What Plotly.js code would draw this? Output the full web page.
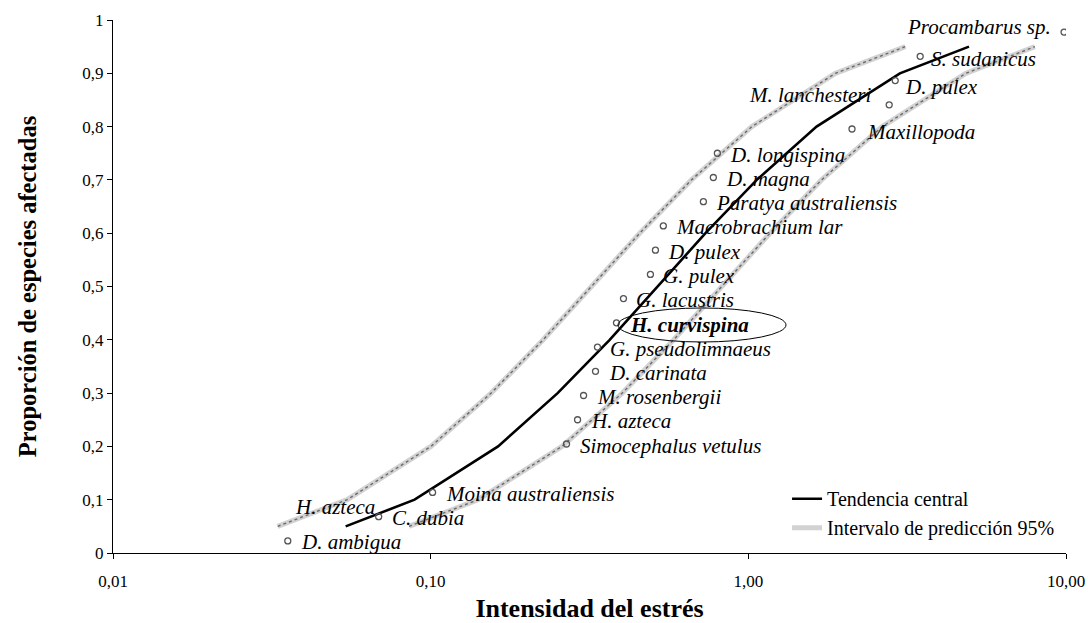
<!DOCTYPE html>
<html>
<head>
<meta charset="utf-8">
<script src="https://cdn.plot.ly/plotly-3.0.1.min.js"></script>
<style>html,body{margin:0;padding:0;background:#fff;}#chart{width:1088px;height:623px;}</style>
</head>
<body>
<div id="chart"></div>
<script>
// ---- data ----
const species = ["D. ambigua","C. dubia","Moina australiensis","Simocephalus vetulus","H. azteca",
  "M. rosenbergii","D. carinata","G. pseudolimnaeus","H. curvispina","G. lacustris","G. pulex",
  "D. pulex","Macrobrachium lar","Paratya australiensis","D. magna","D. longispina","Maxillopoda",
  "M. lanchesteri","D. pulex","S. sudanicus","Procambarus sp."];
const intensidad = [0.0355,0.0686,0.1014,0.2677,0.290,0.3029,0.3303,0.335,0.3845,0.4045,0.4918,
  0.510,0.540,0.722,0.776,0.799,2.12,2.776,2.90,3.475,9.86];
const proporcion = [0.0227,0.0682,0.1136,0.2045,0.25,0.2955,0.3409,0.3864,0.4318,0.4773,0.5227,
  0.5682,0.6136,0.6591,0.7045,0.75,0.7955,0.8409,0.8864,0.9318,0.9773];
// label drawn without a visible point
const extraLabelText = ["H. azteca"];
const extraLabelX = [0.0374];
const extraLabelY = [0.086];

// percentile levels of the fitted curves
const nivel = [0.05,0.1,0.2,0.3,0.4,0.5,0.6,0.7,0.8,0.9,0.95];
const tendenciaX = [0.054,0.089,0.163,0.251,0.366,0.518,0.733,1.063,1.64,3.0,4.95];
const intervaloSupX = [0.033,0.0546,0.1002,0.155,0.226,0.321,0.455,0.662,1.026,1.88,3.12];
const intervaloInfX = [0.0855,0.141,0.259,0.401,0.582,0.826,1.17,1.70,2.64,4.84,7.98];

const xTickVals = [0.01,0.1,1,10];
const xTickText = ["0,01","0,10","1,00","10,00"];
const yTickVals = [0,0.1,0.2,0.3,0.4,0.5,0.6,0.7,0.8,0.9,1];
const yTickText = ["0","0,1","0,2","0,3","0,4","0,5","0,6","0,7","0,8","0,9","1"];

// ---- styling / placement ----
const SERIF = '"Liberation Serif","Times New Roman",serif';
const bandBase = {color:'#d2d2d2', width:5};
const bandDots = {color:'#6a6a6a', width:1.4, dash:'dot'};

const traces = [
  {x:intervaloSupX, y:nivel, mode:'lines', line:bandBase, name:'Intervalo de predicción 95%', legendrank:2, hoverinfo:'skip'},
  {x:intervaloSupX, y:nivel, mode:'lines', line:bandDots, showlegend:false, hoverinfo:'skip'},
  {x:intervaloInfX, y:nivel, mode:'lines', line:bandBase, showlegend:false, hoverinfo:'skip'},
  {x:intervaloInfX, y:nivel, mode:'lines', line:bandDots, showlegend:false, hoverinfo:'skip'},
  {x:tendenciaX, y:nivel, mode:'lines', line:{color:'#000', width:2.6}, name:'Tendencia central', legendrank:1, hoverinfo:'skip'},
  {x:intensidad, y:proporcion, mode:'markers', showlegend:false,
   marker:{symbol:'circle-open', size:6, color:'#555', line:{width:1.3, color:'#555'}}}
];

const special = {
  8: {bold:true, xshift:12, yshift:-2},
  16:{xshift:13, yshift:-3},
  17:{anchor:'right', xshift:-16, yshift:10},
  18:{xshift:8, yshift:-6},
  19:{xshift:9, yshift:-3},
  20:{anchor:'right', xshift:-11, yshift:5}
};
const annotations = species.map((s,i)=>{
  const sp = special[i] || {};
  return {
    x: Math.log10(intensidad[i]), y: proporcion[i], xref:'x', yref:'y',
    text: sp.bold ? '<b><i>'+s+'</i></b>' : '<i>'+s+'</i>',
    showarrow:false, xanchor: sp.anchor || 'left', yanchor:'middle',
    xshift: sp.xshift !== undefined ? sp.xshift : 11,
    yshift: sp.yshift !== undefined ? sp.yshift : -1.5,
    font:{family:SERIF, size:21, color:'#000'}
  };
});
extraLabelText.forEach((t,i)=>{
  annotations.push({x:Math.log10(extraLabelX[i]), y:extraLabelY[i], xref:'x', yref:'y', text:'<i>'+t+'</i>',
    showarrow:false, xanchor:'left', yanchor:'middle', xshift:-2, font:{family:SERIF, size:21, color:'#000'}});
});

const layout = {
  width:1088, height:623,
  margin:{l:113, r:22, t:20, b:70, pad:0},
  paper_bgcolor:'#fff', plot_bgcolor:'#fff',
  showlegend:true,
  legend:{x:0.7073, y:0.1385, xanchor:'left', yanchor:'top', bgcolor:'rgba(0,0,0,0)',
    font:{family:SERIF, size:20, color:'#000'}, traceorder:'normal'},
  xaxis:{type:'log', range:[-2,1], tickvals:xTickVals, ticktext:xTickText,
    showline:true, linecolor:'#000', linewidth:1, ticks:'outside', ticklen:5, tickcolor:'#000',
    showgrid:false, zeroline:false, ticklabelstandoff:8,
    tickfont:{family:SERIF, size:17, color:'#000'},
    title:{text:'<b>Intensidad del estrés</b>', font:{family:SERIF, size:26, color:'#000'}, standoff:13}},
  yaxis:{range:[0,1], tickvals:yTickVals, ticktext:yTickText,
    showline:true, linecolor:'#000', linewidth:1, ticks:'outside', ticklen:5, tickcolor:'#000',
    showgrid:false, zeroline:false,
    tickfont:{family:SERIF, size:17, color:'#000'},
    title:{text:'<b>Proporción de especies afectadas</b>', font:{family:SERIF, size:24.5, color:'#000'}, standoff:38}},
  shapes:[{type:'circle', xref:'paper', yref:'paper', x0:0.5299, x1:0.7062, y0:0.3959, y1:0.4597,
    line:{color:'#000', width:1}}],
  annotations: annotations
};

Plotly.newPlot('chart', traces, layout, {displayModeBar:false, staticPlot:true});
</script>
</body>
</html>
